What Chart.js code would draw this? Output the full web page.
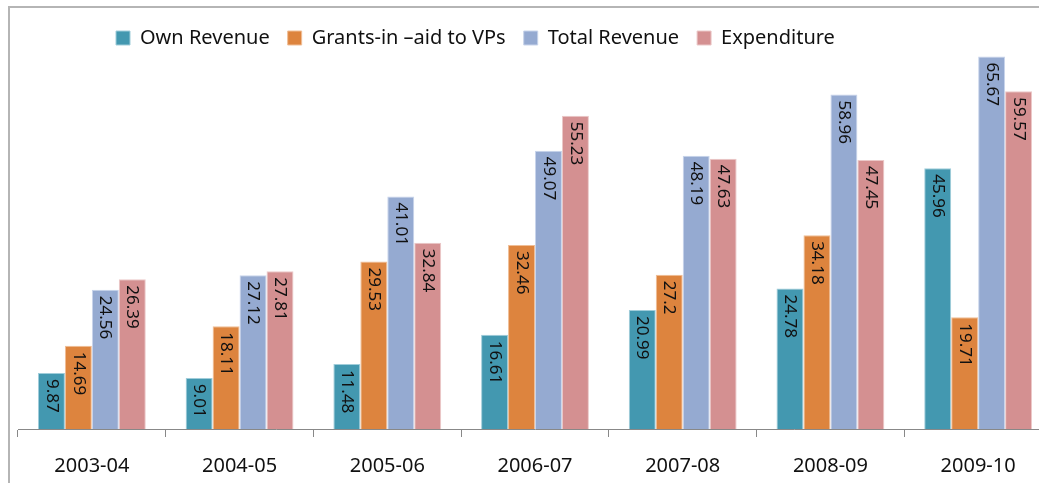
<!DOCTYPE html>
<html>
<head>
<meta charset="utf-8">
<script src="https://cdn.jsdelivr.net/npm/chart.js@4"></script>
<style>
  html, body { margin:0; padding:0; background:#fff; overflow:hidden; }
  #frame { position:absolute; left:8px; top:6px; width:1100px; height:520px;
           border-left:2px solid #b5b5b5; border-top:2px solid #b5b5b5; }
  #wrap { position:absolute; left:0; top:0; width:1060px; height:501px; }
</style>
</head>
<body>
<div id="frame"></div>
<div id="wrap"><canvas id="rev_chart" width="1060" height="501"></canvas></div>
<script>
// values (Rs. lakh)
const years = ["2003-04", "2004-05", "2005-06", "2006-07", "2007-08", "2008-09", "2009-10"];
const ownRevenue = [9.87, 9.01, 11.48, 16.61, 20.99, 24.78, 45.96];
const grantsAid = [14.69, 18.11, 29.53, 32.46, 27.2, 34.18, 19.71];
const totalRevenue = [24.56, 27.12, 41.01, 49.07, 48.19, 58.96, 65.67];
const expenditure = [26.39, 27.81, 32.84, 55.23, 47.63, 47.45, 59.57];

const FONT = "'Noto Sans', 'Open Sans', sans-serif";

// value printed vertically inside the top of each bar
const barLabels = {
    id: "barLabels",
    afterDatasetsDraw: function(chart){
        let ctx = chart.ctx;
        ctx.save();
        ctx.font = "17px " + FONT;
        ctx.fillStyle = "#111";
        ctx.textAlign = "left";
        ctx.textBaseline = "middle";
        chart.data.datasets.forEach(function(ds, i){
            let meta = chart.getDatasetMeta(i);
            meta.data.forEach(function(bar, j){
                ctx.save();
                ctx.translate(bar.x, bar.y + 6);
                ctx.rotate(Math.PI / 2);
                ctx.fillText(String(ds.data[j]), 0, 0);
                ctx.restore();
            });
        });
        ctx.restore();
    }
};

// legend overlaps the plot like in excel: take no room in the layout,
// then put it back a bit left of centre before drawing
const legendOverlay = {
    id: "legendOverlay",
    beforeLayout: function(chart){
        let lg = chart.legend;
        if (lg && !lg._patched) {
            let fit = lg.fit;
            lg.fit = function(){
                fit.call(this);
                this.height = 0;
            };
            lg._patched = true;
        }
    },
    beforeDraw: function(chart){
        let lg = chart.legend;
        lg.left = 98;
        lg.right = 1051;
        lg.top = 10;
        lg.bottom = 60;
        lg.width = lg.right - lg.left;
        lg.height = lg.bottom - lg.top;
    }
};

new Chart(document.getElementById("rev_chart"), {
    type: "bar",
    plugins: [barLabels, legendOverlay],
    data: {
        labels: years,
        datasets: [{
            label: "Own Revenue",
            data: ownRevenue,
            backgroundColor: "rgb(67,152,176)",
            borderColor: "rgb(160,205,218)",
            borderWidth: 1
        },
        {
            label: "Grants-in \u2013aid to VPs",
            data: grantsAid,
            backgroundColor: "rgb(221,132,62)",
            borderColor: "rgb(240,190,150)",
            borderWidth: 1
        },
        {
            label: "Total Revenue",
            data: totalRevenue,
            backgroundColor: "rgb(149,170,209)",
            borderColor: "rgb(200,212,235)",
            borderWidth: 1
        },
        {
            label: "Expenditure",
            data: expenditure,
            backgroundColor: "rgb(212,144,145)",
            borderColor: "rgb(235,200,200)",
            borderWidth: 1
        }]
    },
    options: {
        responsive: false,
        animation: false,
        layout: { padding: { left: 18, right: 8, top: 32, bottom: 6 } },
        datasets: { bar: { categoryPercentage: 0.73, barPercentage: 1.0 } },
        plugins: {
            tooltip: { enabled: false },
            legend: {
                position: "top",
                align: "start",
                labels: {
                    boxWidth: 14,
                    boxHeight: 14,
                    padding: 18,
                    color: "#111",
                    font: { family: FONT, size: 20 }
                }
            }
        },
        scales: {
            x: {
                grid: { drawOnChartArea: false, drawTicks: true, tickLength: 8, color: "#888" },
                border: { display: true, color: "#888", width: 1 },
                ticks: { color: "#111", padding: 17, font: { family: FONT, size: 20 } }
            },
            y: {
                display: false,
                min: 0,
                max: 70
            }
        }
    }
});
</script>
</body>
</html>
